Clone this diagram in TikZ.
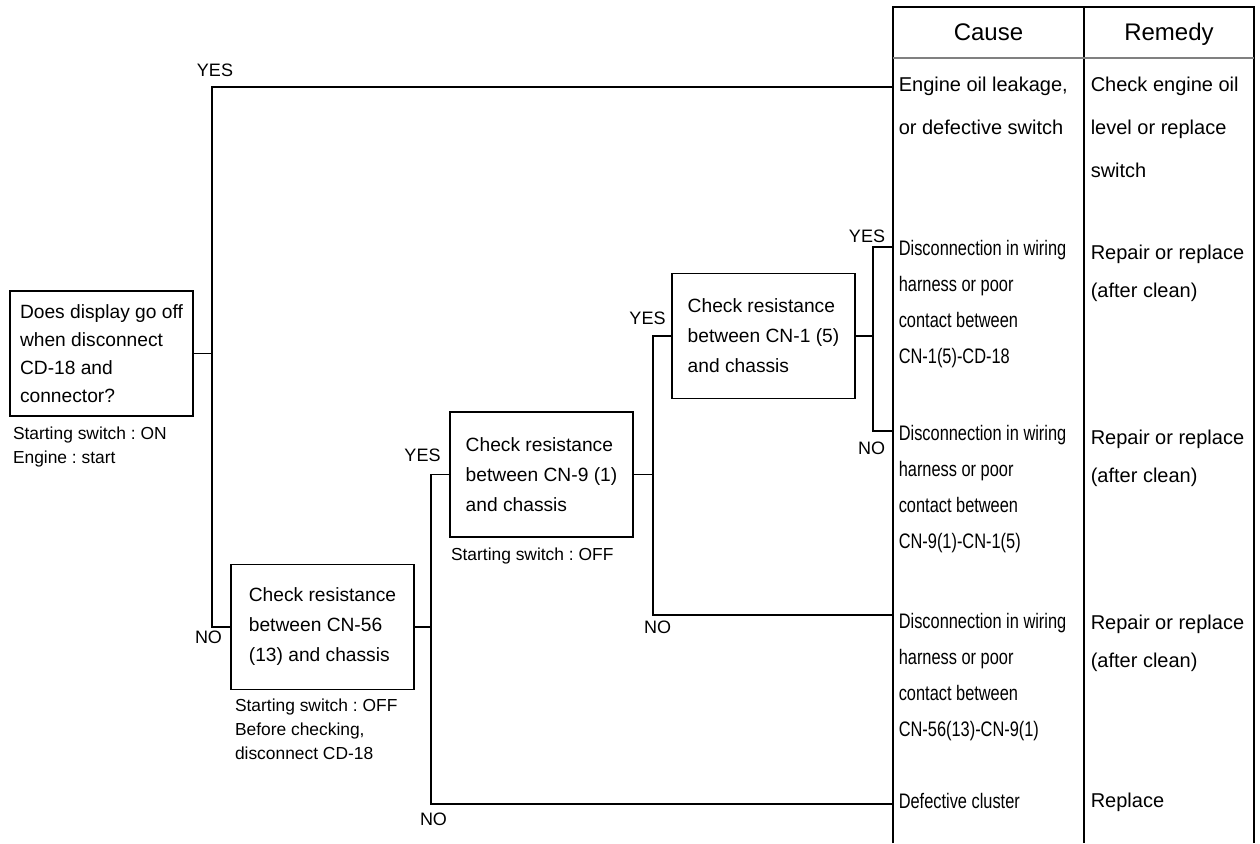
\documentclass[tikz,border=0pt]{standalone}
\usepackage{fontspec}
\setmainfont{Liberation Sans}
\newfontfamily\narrowsans[FakeStretch=0.78]{Liberation Sans}
\usetikzlibrary{positioning}
\frenchspacing

\tikzset{
  qbox/.style={draw, minimum width=91.5pt, minimum height=62.5pt, align=left,
    inner sep=0pt, font=\fontsize{9.6}{15}\selectfont},
  note/.style={inner sep=0pt, align=left, font=\fontsize{8.7}{12}\selectfont},
  yn/.style={inner sep=0pt, font=\fontsize{9}{10}\selectfont},
  head/.style={anchor=base, inner sep=0pt, font=\fontsize{12}{14}\selectfont},
  cell/.style={anchor=north west, inner sep=0pt, align=left},
  wide/.style={cell, font=\fontsize{10}{21.5}\selectfont},
  narrow/.style={cell, font=\narrowsans\fontsize{10.5}{18}\selectfont},
  fix/.style={cell, font=\fontsize{10}{19}\selectfont}
}

\begin{document}
\begin{tikzpicture}[x=0.5pt, y=-0.5pt, line width=0.8pt]
	\useasboundingbox (0,0) rectangle (1260,843);
	% check boxes
	\node[qbox, font=\fontsize{9.6}{14}\selectfont] (q1) at (101.5,353.5) {Does display go off\\when disconnect\\CD-18 and\\connector?};
	\node[qbox] (q2) at (322.5,627) {Check resistance\\between CN-56\\(13) and chassis};
	\node[qbox] (q3) at (541.5,474.5) {Check resistance\\between CN-9 (1)\\and chassis};
	\node[qbox] (q4) at (763.5,336) {Check resistance\\between CN-1 (5)\\and chassis};
	% conditions
	\node[note, below right=4.5pt and 1.5pt of q1.south west] (n1) {Starting switch : ON\\Engine : start};
	\node[note, below right=4pt and 2pt of q2.south west] (n2) {Starting switch : OFF\\Before checking,\\disconnect CD-18};
	\node[note, below right=4.5pt and 0.5pt of q3.south west] (n3) {Starting switch : OFF};
	% branch points
	\coordinate (j1) at (212,353.5);
	\coordinate (j2) at (431,627);
	\coordinate (j3) at (653,474.5);
	\coordinate (j4) at (873,336);
	% entries on the table
	\coordinate (t1) at (893,87);
	\coordinate (t2) at (893,247);
	\coordinate (t3) at (893,431);
	\coordinate (t4) at (893,615);
	\coordinate (t5) at (893,804);
	% connectors
	\draw (q1.east) -- (j1);
	\draw (t1) -| (j1) |- (q2.west);
	\draw (q2.east) -- (j2);
	\draw (q3.west) -| (j2) |- (t5);
	\draw (q3.east) -- (j3);
	\draw (q4.west) -| (j3) |- (t4);
	\draw (q4.east) -- (j4);
	\draw (t2) -| (j4) |- (t3);
	% yes / no
	\node[yn] (y1) at (215,70.5) {YES};
	\node[yn] (m1) at (208.5,637.5) {NO};
	\node[yn] (y2) at (422.5,455) {YES};
	\node[yn] (m2) at (433.5,819.5) {NO};
	\node[yn] (y3) at (647.5,318.5) {YES};
	\node[yn] (m3) at (657.5,627.5) {NO};
	\node[yn] (y4) at (867,236) {YES};
	\node[yn] (m4) at (871.5,448) {NO};
	% table
	\draw (893,843) -- (893,7) -- (1254,7) -- (1254,843);
	\draw (1084,7) -- (1084,843);
	\draw[gray, line width=0.6pt] (893,58) -- (1254,58);
	\node[head] (hc) at (988.5,40) {Cause};
	\node[head] (hr) at (1169,40) {Remedy};
	\node[wide] (c1) at (898,76) {Engine oil leakage,\\or defective switch};
	\node[wide] (r1) at (1090,76) {Check engine oil\\level or replace\\switch};
	\node[narrow] (c2) at (898,239) {Disconnection in wiring\\harness or poor\\contact between\\CN-1(5)-CD-18};
	\node[fix] (r2) at (1090,244) {Repair or replace\\(after clean)};
	\node[narrow] (c3) at (898,424) {Disconnection in wiring\\harness or poor\\contact between\\CN-9(1)-CN-1(5)};
	\node[fix] (r3) at (1090,429) {Repair or replace\\(after clean)};
	\node[narrow] (c4) at (898,612) {Disconnection in wiring\\harness or poor\\contact between\\CN-56(13)-CN-9(1)};
	\node[fix] (r4) at (1090,614) {Repair or replace\\(after clean)};
	\node[narrow] (c5) at (898,792) {Defective cluster};
	\node[fix] (r5) at (1090,792) {Replace};
\end{tikzpicture}
\end{document}
